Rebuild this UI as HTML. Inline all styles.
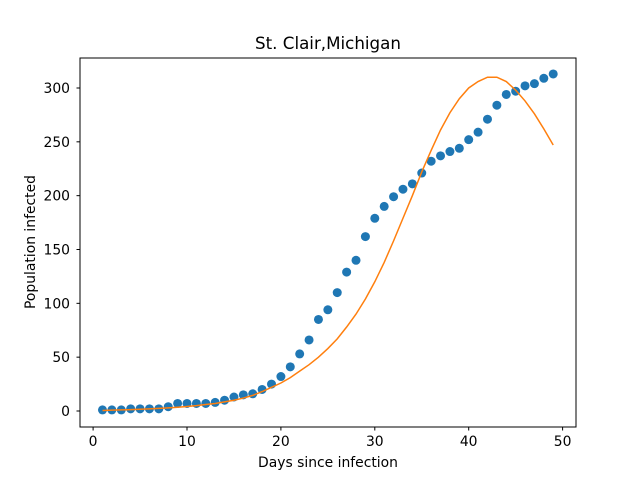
<!DOCTYPE html>
<html><head><meta charset="utf-8"><style>body{margin:0;background:#fff}svg text{font-family:"DejaVu Sans","Liberation Sans",sans-serif}</style></head>
<body>
<svg id="c" width="640" height="480" xmlns="http://www.w3.org/2000/svg">
<rect width="640" height="480" fill="#fff"/>
<g id="marks"></g>
<rect x="80" y="58" width="496" height="369" fill="none" stroke="#000" stroke-width="1"/>
<g id="axes"></g>
<text x="328" y="49" text-anchor="middle" font-size="16.7">St. Clair,Michigan</text>
<text x="328" y="467" text-anchor="middle" font-size="13.9">Days since infection</text>
<text x="35" y="242" text-anchor="middle" font-size="13.9" transform="rotate(-90 35 242)">Population infected</text>
</svg>
<script>
const days=[1,2,3,4,5,6,7,8,9,10,11,12,13,14,15,16,17,18,19,20,21,22,23,24,25,26,27,28,29,30,31,32,33,34,35,36,37,38,39,40,41,42,43,44,45,46,47,48,49];
const infected=[1,1,1,2,2,2,2,4,7,7,7,7,8,10,13,15,16,20,25,32,41,53,66,85,94,110,129,140,162,179,190,199,206,211,221,232,237,241,244,252,259,271,284,294,297,302,304,309,313];
const fitted=[0.5,0.8,1,1.3,1.6,2,2.4,2.9,3.5,4.2,5,6,7,8.5,10,12,14.5,18,22,26,31,37,43,50,58,67,78,90,104,120,138,158,179,200,222,242,261,277,290,300,306,310,310,306,298,288,276,262,247];
const xTicks=[0,10,20,30,40,50];
const yTicks=[0,50,100,150,200,250,300];
const NS="http://www.w3.org/2000/svg";
const X=v=>93.1+v*9.39;
const Y=v=>411-v*1.0767;
const marks=document.getElementById('marks'),axes=document.getElementById('axes');
function mk(t,a,p){const e=document.createElementNS(NS,t);for(const k in a)e.setAttribute(k,a[k]);p.appendChild(e);return e;}
days.forEach((d,i)=>{const c=mk('circle',{cx:X(d),cy:Y(infected[i]),r:4.5,fill:'#1f77b4'},marks);

});
const p=mk('polyline',{points:days.map((d,i)=>X(d)+','+Y(fitted[i])).join(' '),fill:'none',stroke:'#ff7f0e','stroke-width':1.5},marks);


xTicks.forEach(t=>{mk('line',{x1:X(t),x2:X(t),y1:427,y2:430.5,stroke:'#000'},axes);
const tx=mk('text',{x:X(t),y:446,'text-anchor':'middle','font-size':13.9},axes);tx.textContent=t;

});
yTicks.forEach(t=>{mk('line',{x1:76.5,x2:80,y1:Y(t),y2:Y(t),stroke:'#000'},axes);
const tx=mk('text',{x:70,y:Y(t)+5,'text-anchor':'end','font-size':13.9},axes);tx.textContent=t;

});
</script>
</body></html>
